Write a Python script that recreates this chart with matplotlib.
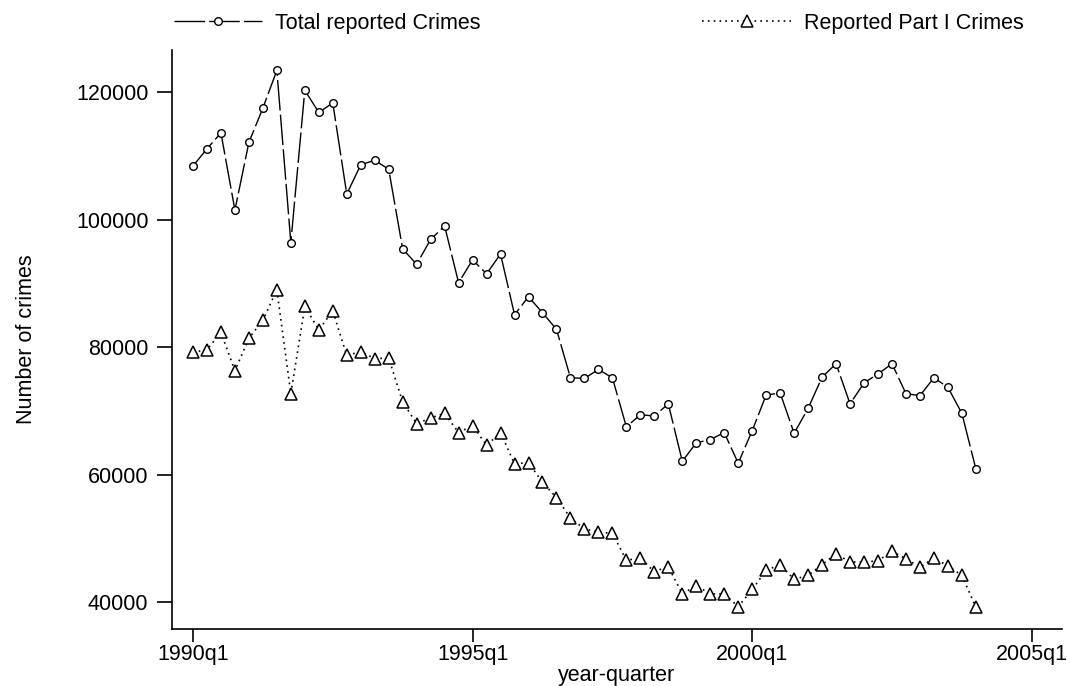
import numpy as np
import matplotlib.pyplot as plt

plt.rcParams['font.family'] = ['Liberation Sans', 'DejaVu Sans']

# quarters since 1990q1 (1990q1 .. 2004q1)
quarter = np.arange(57)

total_crimes = [
    108400, 111100, 113600, 101500, 112100, 117500, 123400, 96400,
    120300, 116800, 118300, 104000, 108600, 109300, 107900, 95400,
    93000, 96900, 99000, 90100, 93700, 91500, 94600, 85100,
    87900, 85400, 82800, 75200, 75100, 76500, 75200, 67500,
    69400, 69200, 71100, 62100, 65000, 65500, 66600, 61800,
    66900, 72500, 72800, 66500, 70400, 75300, 77400, 71100,
    74400, 75800, 77400, 72700, 72400, 75200, 73700, 69600,
    60900,
]

part1_crimes = [
    79200, 79600, 82300, 76300, 81400, 84200, 89000, 72700,
    86400, 82700, 85700, 78700, 79300, 78200, 78300, 71400,
    68000, 68900, 69600, 66600, 67700, 64600, 66600, 61700,
    61900, 58800, 56400, 53200, 51500, 51000, 50800, 46600,
    46900, 44800, 45600, 41300, 42600, 41300, 41300, 39300,
    42000, 45000, 45900, 43600, 44200, 45900, 47600, 46300,
    46300, 46500, 48000, 46800, 45500, 46900, 45700, 44200,
    39200,
]

tick_quarters = [0, 20, 40, 60]
tick_labels = ['1990q1', '1995q1', '2000q1', '2005q1']
y_ticks = [40000, 60000, 80000, 100000, 120000]

fs = 15.5

fig = plt.figure(figsize=(10.7, 6.86), dpi=100)
ax = fig.add_axes([172 / 1070, 1 - 629 / 686, (1062 - 172) / 1070, (629 - 50) / 686])

ax.plot(quarter, total_crimes, color='black', lw=1.0, ls=(0, (22, 3)),
        marker='o', ms=5.5, mfc='white', mec='black', mew=1.0,
        label='Total reported Crimes')
ax.plot(quarter, part1_crimes, color='black', lw=1.2, ls=(0, (1, 2.5)),
        marker='^', ms=9, mfc='white', mec='black', mew=1.1,
        label='Reported Part I Crimes')

ax.set_xlim(-1.50, 62.16)
ax.set_ylim(35800, 126600)
ax.set_xticks(tick_quarters)
ax.set_xticklabels(tick_labels)
ax.set_yticks(y_ticks)
ax.set_yticklabels([str(v) for v in y_ticks])

for side in ['top', 'right']:
    ax.spines[side].set_visible(False)
for side in ['left', 'bottom']:
    ax.spines[side].set_linewidth(1.2)

ax.tick_params(axis='y', length=11, width=1.2, pad=6, labelsize=fs)
ax.tick_params(axis='x', length=9, width=1.2, pad=2, labelsize=fs)

ax.set_xlabel('year-quarter', fontsize=fs, labelpad=0)
ax.set_ylabel('Number of crimes', fontsize=fs, labelpad=28)

fig.legend(loc='center left', bbox_to_anchor=(174 / 1070, 1 - 23 / 686), ncol=2,
           frameon=False, fontsize=fs, borderpad=0, borderaxespad=0,
           handlelength=4.1, handletextpad=0.6, columnspacing=10.3)

fig.savefig('out.png', dpi=100, facecolor='white')
